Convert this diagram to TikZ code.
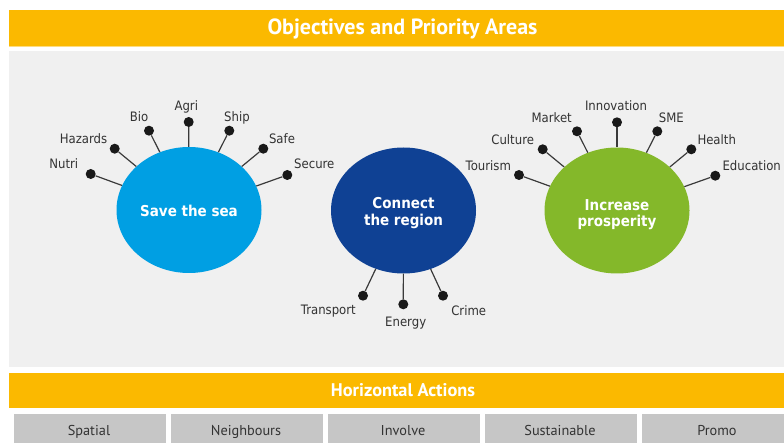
\documentclass[tikz,border=0pt]{standalone}
\usepackage{fontspec}
\usetikzlibrary{shapes.geometric}
\newfontfamily\labf[FakeStretch=0.9]{DejaVu Sans}
\newfontfamily\hdrf{PT Sans}
\definecolor{barorange}{HTML}{FBB900}
\definecolor{panelgray}{HTML}{F0F0F0}
\definecolor{boxgray}{HTML}{C6C6C6}
\definecolor{seablue}{HTML}{009FE3}
\definecolor{darkblue}{HTML}{0F4194}
\definecolor{leafgreen}{HTML}{84B82A}
\definecolor{labtext}{HTML}{333333}
\definecolor{spoke}{HTML}{3A3A3A}
\tikzset{
  bar/.style={fill=barorange, draw=none},
  bartext/.style={text=white, font=\hdrf\bfseries\fontsize{22}{22}\selectfont, inner sep=0pt},
  actbox/.style={fill=boxgray, draw=white, line width=0.6pt, minimum width=153pt, minimum height=32pt, inner sep=0pt, anchor=north west},
  acttext/.style={text=labtext, font=\hdrf\fontsize{14.3}{14.3}\selectfont, inner sep=0pt, text height=10pt, text depth=0pt},
  blob/.style={ellipse, minimum width=145pt, minimum height=126pt, inner sep=0pt, draw=none},
  blobtext/.style={text=white, align=center, inner sep=0pt, font=\labf\bfseries\fontsize{15}{16.5}\selectfont},
  dot/.style={circle, fill=black!90, minimum size=10pt, inner sep=0pt},
  lbl/.style={text=labtext, font=\labf\fontsize{13}{13}\selectfont, inner sep=0pt, text height=9.5pt, text depth=0pt},
  spk/.style={draw=spoke, line width=1.2pt}
}
\begin{document}
\begin{tikzpicture}[x=1pt, y=-1pt]
\useasboundingbox (0,0) rectangle (784,443);
\clip (0,0) rectangle (784,443);
\fill[white] (0,0) rectangle (784,443);
% header bar
\fill[bar] (9,10) rectangle (800,46.5);
\draw[barorange!50, line width=0.8pt] (9,46.6) -- (800,46.6);
\node[bartext] (title) at (402.5,28.5) {Objectives and Priority Areas};
% panel
\fill[panelgray] (9,51.5) rectangle (800,366.5);
% horizontal actions bar
\fill[bar] (9,372.5) rectangle (800,408.3);
\node[bartext, font=\hdrf\bfseries\fontsize{18.3}{18.3}\selectfont] (hact) at (403,390.5) {Horizontal Actions};
% action boxes
\node[actbox] (b1) at (13,413) {};
\node[actbox] (b2) at (170,413) {};
\node[actbox] (b3) at (327,413) {};
\node[actbox] (b4) at (484,413) {};
\node[actbox] (b5) at (641,413) {};
\node[acttext] (t1) at (89,430.5) {Spatial};
\node[acttext] (t2) at (246,430.5) {Neighbours};
\node[acttext] (t3) at (403,430.5) {Involve};
\node[acttext] (t4) at (560,430.5) {Sustainable};
\node[acttext] (t5) at (717,430.5) {Promo};
% circles
\node[blob, fill=seablue] (sea) at (189,210) {};
\node[blob, fill=darkblue] (conn) at (403.5,210.5) {};
\node[blob, fill=leafgreen] (pros) at (617,210.5) {};
\node[blobtext] (seat) at (189,210.5) {Save the sea};
\node[blobtext] (connt) at (403.5,213) {Connect\\the region};
\node[blobtext] (prost) at (617,214.5) {Increase\\prosperity};
% sea spokes
\node[dot] (s1) at (90.7,174) {};
\node[dot] (s2) at (114.7,148.7) {};
\node[dot] (s3) at (149,130.7) {};
\node[dot] (s4) at (188.7,122) {};
\node[dot] (s5) at (229.3,130.7) {};
\node[dot] (s6) at (263.3,148.7) {};
\node[dot] (s7) at (287.3,175) {};
\foreach \i in {1,...,7} {\draw[spk] (s\i) -- (sea);}
\node[lbl] (ls1) at (63.8,164) {Nutri};
\node[lbl] (ls2) at (83.5,138.3) {Hazards};
\node[lbl] (ls3) at (139,117) {Bio};
\node[lbl] (ls4) at (186.3,105.7) {Agri};
\node[lbl] (ls5) at (237,117) {Ship};
\node[lbl] (ls6) at (282,138.3) {Safe};
\node[lbl] (ls7) at (314.3,164) {Secure};
% connect spokes
\node[dot] (c1) at (363,295.7) {};
\node[dot] (c2) at (403.3,304.3) {};
\node[dot] (c3) at (443,295.7) {};
\foreach \i in {1,2,3} {\draw[spk] (c\i) -- (conn);}
\node[lbl] (lc1) at (328.3,310) {Transport};
\node[lbl] (lc2) at (405.7,321.7) {Energy};
\node[lbl] (lc3) at (468.7,310.7) {Crime};
% prosperity spokes
\node[dot] (p1) at (519,175) {};
\node[dot] (p2) at (542.7,149.3) {};
\node[dot] (p3) at (577,131.3) {};
\node[dot] (p4) at (617,122.3) {};
\node[dot] (p5) at (657.3,131.3) {};
\node[dot] (p6) at (691.3,149.3) {};
\node[dot] (p7) at (715.3,175.7) {};
\foreach \i in {1,...,7} {\draw[spk] (p\i) -- (pros);}
\node[lbl] (lp1) at (488.3,165.3) {Tourism};
\node[lbl] (lp2) at (512.7,139.3) {Culture};
\node[lbl] (lp3) at (551.7,118) {Market};
\node[lbl] (lp4) at (616,105.3) {Innovation};
\node[lbl] (lp5) at (671.3,118) {SME};
\node[lbl] (lp6) at (716.7,139.3) {Health};
\node[lbl] (lp7) at (751.7,165.3) {Education};
\end{tikzpicture}
\end{document}
